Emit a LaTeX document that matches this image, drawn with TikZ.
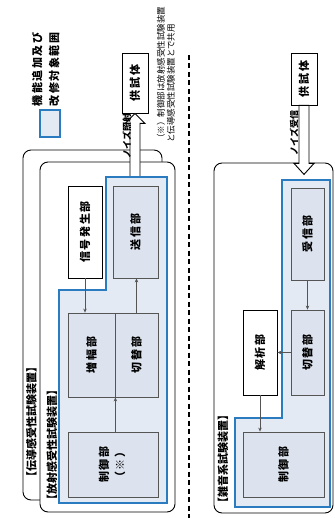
\documentclass[tikz,border=0pt]{standalone}
\usepackage{fontspec}
\usepackage{graphicx}
\newfontfamily\jp{Noto Sans CJK JP}
\newfontfamily\jpsp{Noto Sans CJK JP}[LetterSpace=15]
\usetikzlibrary{arrows.meta}
\definecolor{kaishu}{HTML}{2B7BC0}
\definecolor{kaishufill}{HTML}{E4EAF3}
\definecolor{unitfill}{HTML}{DCE3EE}
\definecolor{unitline}{HTML}{555555}
\newcommand{\vtxt}[1]{\rotatebox{90}{#1}}

\begin{document}
\begin{tikzpicture}[
  x=1pt, y=-1pt,
  unit/.style={draw=unitline, fill=unitfill, line width=0.8pt, inner sep=0pt, font=\jpsp\bfseries\fontsize{11}{16}\selectfont},
  plain/.style={unit, draw=black, fill=white},
  frame/.style={draw=black, line width=0.9pt, rounded corners=8pt},
  zone/.style={draw=kaishu, fill=kaishufill, line width=1.6pt},
  arr/.style={-{Stealth[length=4pt, width=3.5pt]}, draw=unitline, line width=0.8pt},
  tag/.style={inner sep=0pt, font=\jp\bfseries\fontsize{11}{13}\selectfont},
  noise/.style={draw=black, fill=white, line width=0.9pt},
  sep/.style={draw=black, line width=1.3pt, dash pattern=on 5pt off 3.5pt}
]
\useasboundingbox (0,0) rectangle (334,518);

% legend
\node[zone, minimum width=20, minimum height=27, inner sep=0pt] (keybox) at (50,123.5) {};
\node[tag, font=\jpsp\bfseries\fontsize{11}{17}\selectfont] (keytext) at (46.5,69.5)
  {\vtxt{\begin{tabular}{@{}l@{}}機能追加及び\\改修対象範囲\end{tabular}}};
\node[tag, anchor=south, font=\jp\fontsize{8.5}{10}\selectfont] (remark) at (167,143)
  {\vtxt{\begin{tabular}{@{}l@{}}（※）制御部は放射感受性試験装置\\と伝導感受性試験装置とで共用\end{tabular}}};

% radiated / conducted
\draw[frame] (23,150) rectangle (162,500);
\draw[frame, fill=white] (40,162) rectangle (175,512);
\node[plain, minimum width=26, minimum height=60] (dutA) at (135,83) {\vtxt{供試体}};
\draw[noise] (dutA.south) -- ++(10,10) -- ++(-5,0) -- ++(0,54) -- ++(-10,0) -- ++(0,-54) -- ++(-5,0) -- cycle;
\node[tag, font=\jp\bfseries\fontsize{9}{10}\selectfont] (emitlbl) at (127,136) {\vtxt{ノイズ照射}};
\draw[zone] (106,177) -- (167,177) -- (167,503) -- (59,503) -- (59,290) -- (106,290) -- cycle;

\node[plain, minimum width=34, minimum height=92] (sigA) at (85,232) {\vtxt{信号発生部}};
\node[unit, minimum width=45, minimum height=92] (txA) at (135.5,232) {\vtxt{送信部}};
\node[unit, minimum width=47, minimum height=84] (ampA) at (91.5,355) {\vtxt{増幅部}};
\node[unit, minimum width=43, minimum height=84] (swA) at (136.5,355) {\vtxt{切替部}};
\node[unit, minimum width=90, minimum height=65] (ctlA) at (113,464.5)
  {\vtxt{\begin{tabular}{@{}c@{}}制御部\\（※）\end{tabular}}};

\draw[arr] (sigA.south) -- (sigA.south |- ampA.north);
\draw[arr] (swA.north) -- (swA.north |- txA.south);
\draw[arr] (ctlA.north -| ampA.south east) -- (ampA.south east);

\node[tag] (tagA) at (31.5,421.5) {\vtxt{【伝導感受性試験装置】}};
\node[tag] (tagB) at (52,445) {\vtxt{【放射感受性試験装置】}};

% separator
\draw[sep] (189,55) -- (189,518);

% noise measurement
\draw[frame] (214,163) rectangle (333,513);
\node[plain, minimum width=26, minimum height=52] (dutB) at (304,79) {\vtxt{供試体}};
\draw[noise] (dutB.south) -- ++(5,0) -- ++(0,58) -- ++(5,0) -- ++(-10,11) -- ++(-10,-11) -- ++(5,0) -- ++(0,-58) -- cycle;
\node[tag, font=\jp\bfseries\fontsize{9}{10}\selectfont] (recvlbl) at (294,133) {\vtxt{ノイズ受信}};
\draw[zone] (282,180) -- (330,180) -- (330,507) -- (235,507) -- (235,418) -- (282,418) -- cycle;

\node[unit, minimum width=33, minimum height=92] (rxB) at (307.5,234) {\vtxt{受信部}};
\node[unit, minimum width=33, minimum height=85] (swB) at (307.5,352.5) {\vtxt{切替部}};
\node[plain, minimum width=34, minimum height=85] (anB) at (260,352.5) {\vtxt{解析部}};
\node[unit, minimum width=81, minimum height=65] (ctlB) at (283.5,464.5) {\vtxt{制御部}};

\draw[arr] (rxB) -- (swB);
\draw[arr] (swB.west) -- (anB.east);
\draw[arr] (anB.south) -- (anB.south |- ctlB.north);

\node[tag] (tagC) at (223,458.5) {\vtxt{【雑音系試験装置】}};
\end{tikzpicture}
\end{document}
